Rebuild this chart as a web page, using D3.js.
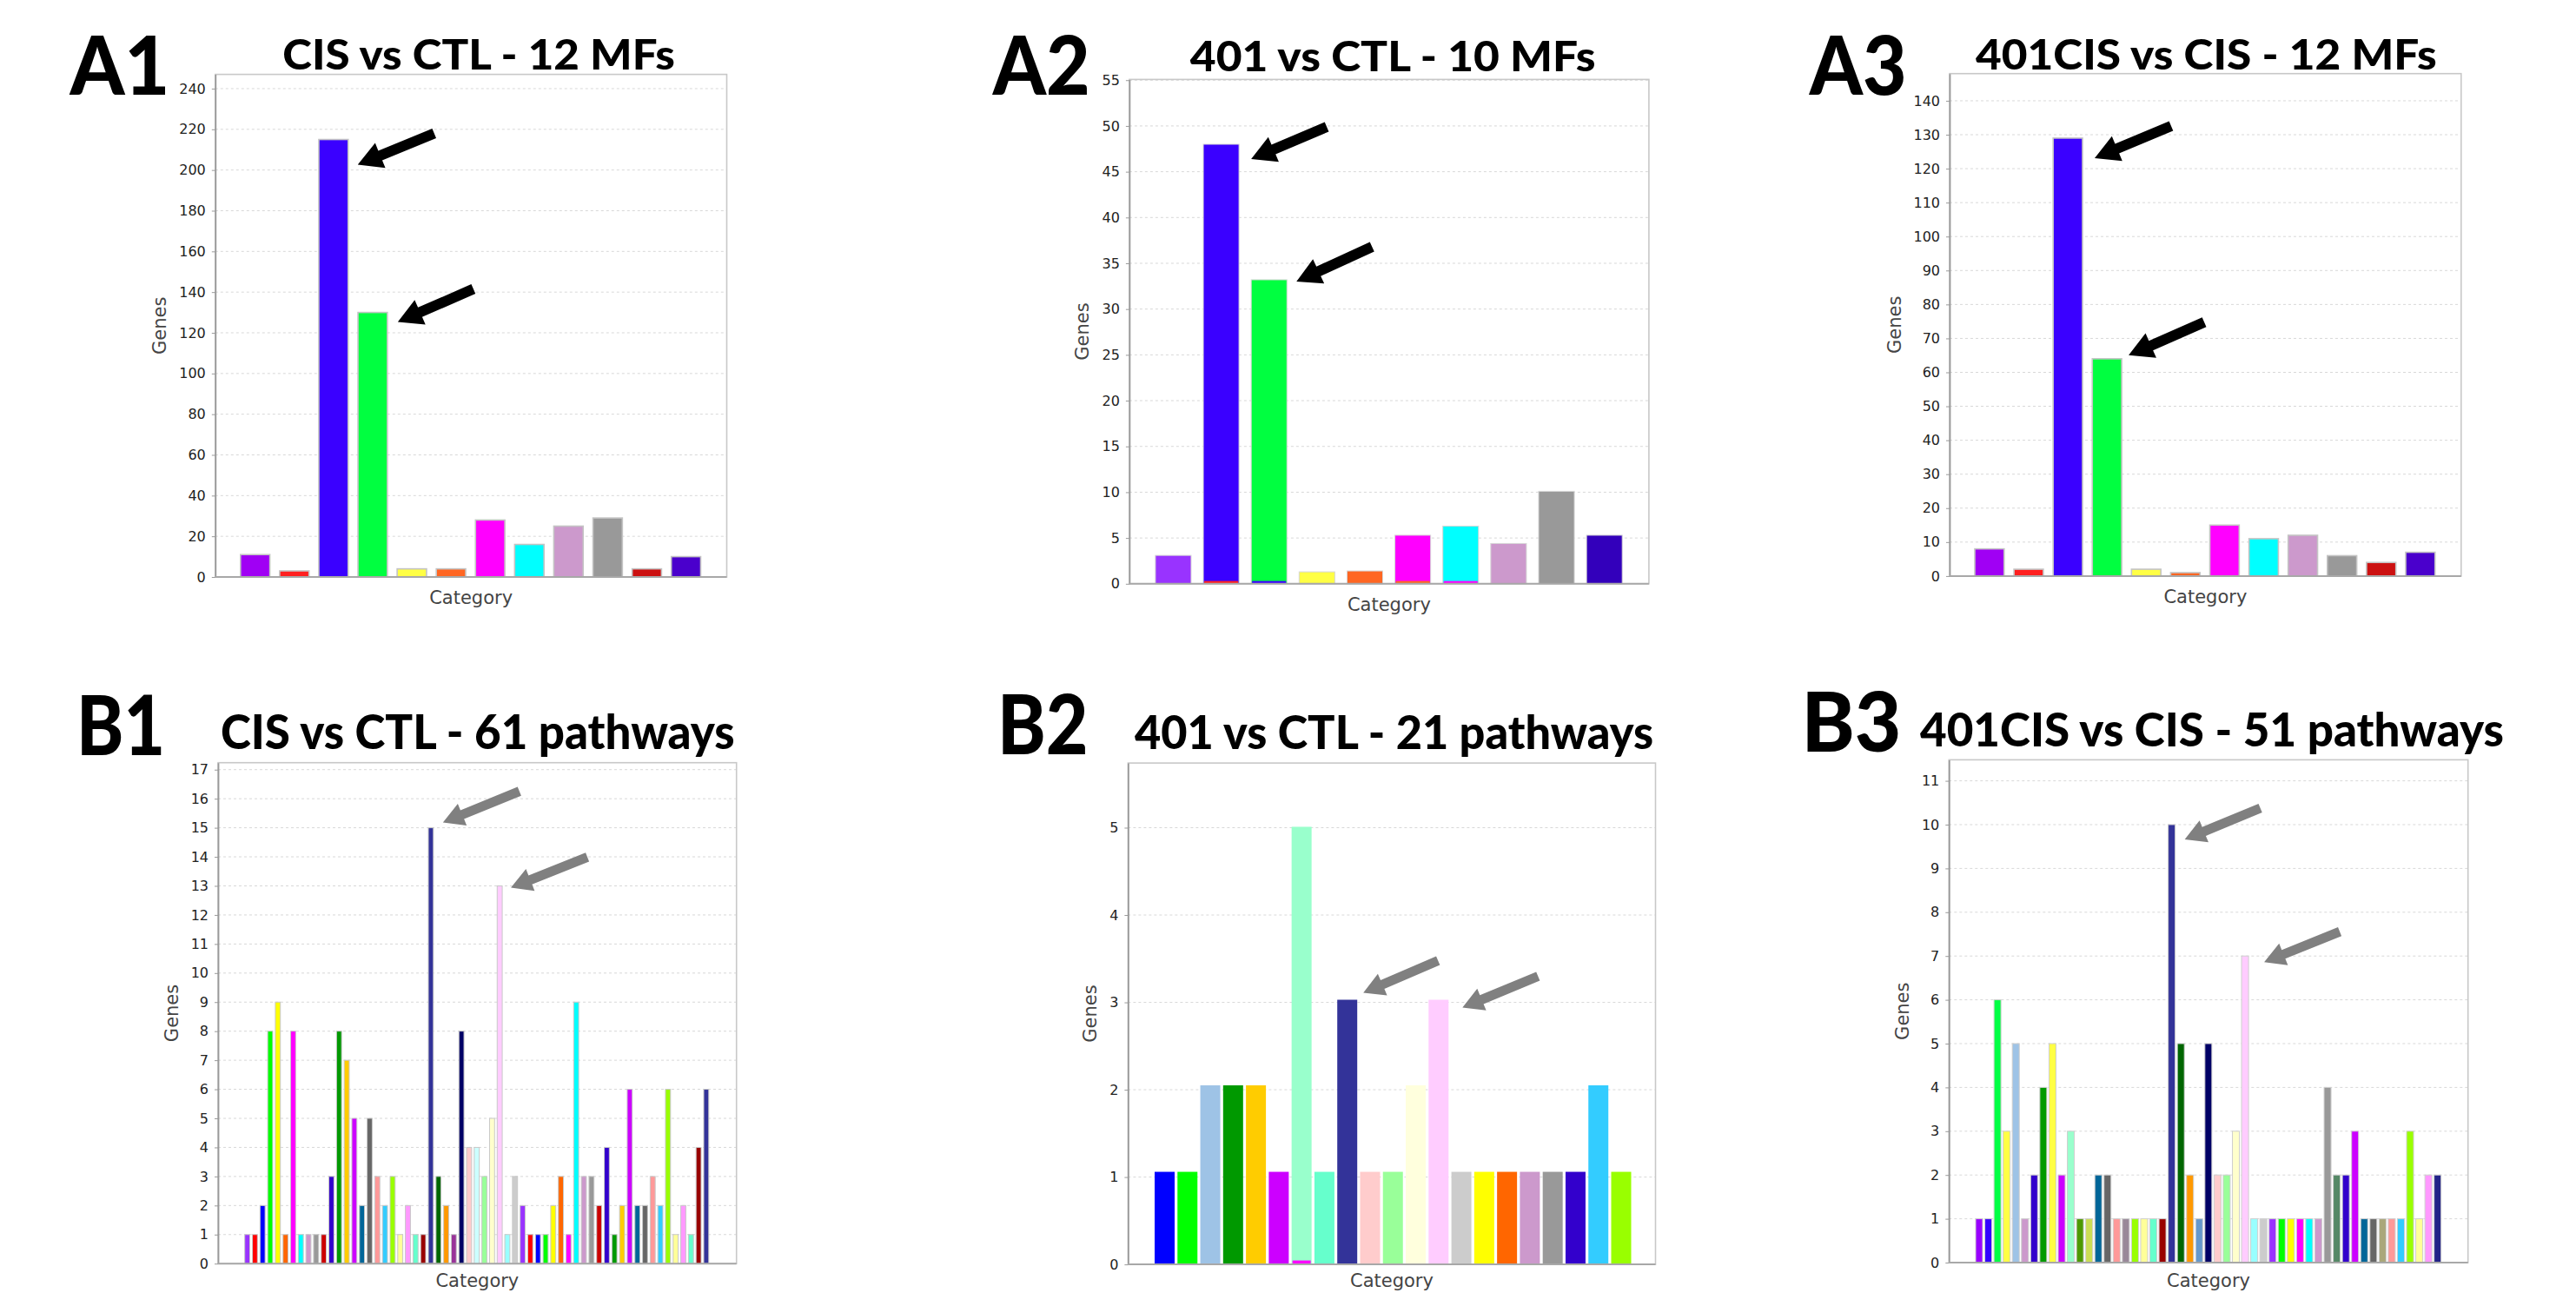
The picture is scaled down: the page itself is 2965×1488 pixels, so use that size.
<!DOCTYPE html>
<html><head><meta charset="utf-8">
<script src="https://cdn.jsdelivr.net/npm/d3@7"></script>
<style>html,body{margin:0;padding:0;background:#fff;}svg{display:block;}</style>
</head><body>
<svg id="fig" width="2965" height="1488"></svg>
<script>
// ---------------- DATA ----------------
const a1Values = [11, 3, 215, 130, 4, 4, 28, 16, 25, 29, 4, 10];
const a1Colors = ['#a000f4','#ff2020','#3a00ff','#00ff40','#ffff44','#ff6622','#ff00ff','#00ffff','#cc99cc','#999999','#cc1111','#4a00cc'];
const a1Ticks = [0,20,40,60,80,100,120,140,160,180,200,220,240];

const a2Values = [3.1, 48, 33.2, 1.3, 1.4, 5.3, 6.3, 4.4, 10.1, 5.3];
const a2Colors = ['#9933ff','#3a00ff','#00ff40','#ffff44','#ff6622','#ff00ff','#00ffff','#cc99cc','#999999','#3300bb'];
const a2Strip  = [null,'#ff2020','#3a00ff',null,null,'#ff6622','#ff00ff',null,null,null];
const a2Ticks = [0,5,10,15,20,25,30,35,40,45,50,55];

const a3Values = [8, 2, 129, 64, 2, 1, 15, 11, 12, 6, 4, 7];
const a3Colors = ['#a000f4','#ff2020','#3a00ff','#00ff40','#ffff44','#ff6622','#ff00ff','#00ffff','#cc99cc','#999999','#cc1111','#4a00cc'];
const a3Ticks = [0,10,20,30,40,50,60,70,80,90,100,110,120,130,140];

const pathwayPalette = ['#9933ff','#ff0000','#0000ff','#00ff00','#ffff00','#ff6600','#ff00ff','#00ffff','#cc99cc','#999999','#cc0000','#3300cc',
  '#009900','#ffcc00','#cc00ff','#006699','#666666','#ff9999','#33ccff','#99ff00','#ffff99','#ff99ff','#66ffcc','#990000',
  '#333399','#006600','#ff9900','#993399','#000066','#ffcccc','#ccffff','#99ff99','#ffffcc','#ffccff','#99ffff','#cccccc'];

const b1Values = [1,1,2,8,9,1,8,1,1,1,1, 3,8,7,5,2,5,3,2,3,1,2,1,1, 15,3,2,1,8,4,4,3,5,13,1,3,2, 1,1,1,2,3,1,9,3,3,2,4,1, 2,6,2,2,3,2,6,1,2,1,4,6];
const b1Colors = pathwayPalette.concat(pathwayPalette.slice(0, 25));
const b1Ticks = [0,1,2,3,4,5,6,7,8,9,10,11,12,13,14,15,16,17];

const b2Values = [1.06,1.06,2.05,2.05,2.05,1.06,5.01,1.06,3.03,1.06,1.06,2.05,3.03,1.06,1.06,1.06,1.06,1.06,1.06,2.05,1.06];
const b2Colors = ['#0000ff','#00ff00','#9ec3e6','#009900','#ffcc00','#cc00ff','#99ffcc','#66ffcc','#333399','#ffcccc','#99ff99',
  '#ffffdd','#ffccff','#cccccc','#ffff00','#ff6600','#cc99cc','#999999','#3300cc','#33ccff','#99ff00'];
const b2Strip = [null,null,null,null,null,null,'#ff00ff',null,null,null,null,null,null,null,null,null,null,null,null,null,null];
const b2Ticks = [0,1,2,3,4,5];

const b3Values = [1,1,6,3,5,1,2,4,5,2,3,1,1,2,2,1,1,1,1,1,1,10,5,2,1,5,2,2,3,7,1,1,1,1,1,1,1,1,4,2,2,3,1,1,1,1,1,3,1,2,2];
const b3Colors = ['#9900ff','#3300ff','#00ff44','#ffff44','#9ec3e6','#cc99cc','#3300cc','#009900','#ffff44','#cc00ff',
  '#99ffcc','#4d9900','#ccdd55','#006699','#666666','#ff9999','#998899','#99ff00','#ffff99','#66ffcc',
  '#990000','#333399','#006600','#ff9900','#6699cc','#000066','#ffcccc','#99ff99','#ffffcc','#ffccff',
  '#99ffff','#cccccc','#9933ff','#00ff00','#ffff00','#ff00ff','#00ffff','#cc99cc','#999999','#558866',
  '#3300cc','#cc00ff','#006699','#666666','#aaa77a','#ff9999','#33ccff','#99ff00','#ffff99','#ff99ff','#222288'];
const b3Ticks = [0,1,2,3,4,5,6,7,8,9,10,11];

// ---------------- LAYOUT ----------------
const panels = [
  {label:'A1', lab:{x:80.4,y:109.3,w:115,fs:93}, title:'CIS vs CTL - 12 MFs', tit:{x:325.3,y:80.3,w:451.5,fs:46.7},
   values:a1Values, colors:a1Colors, ticks:a1Ticks, L:247.8, R:836.5, T:85.6, B:664, yMax:247, gapL:29, gapR:30, pi:0.25,
   genesX:184, barStroke:'#c4c4c4', barSW:1.6, arrowColor:'#000', shaft:12, headW:31, headL:28,
   arrows:[{i:2,dx:11,dy:29,vx:88,vy:-36},{i:3,dx:12,dy:11,vx:87,vy:-38}]},
  {label:'A2', lab:{x:1142.8,y:109.3,w:112,fs:93}, title:'401 vs CTL - 10 MFs', tit:{x:1369.8,y:81.5,w:466.8,fs:48},
   values:a2Values, colors:a2Colors, strip:a2Strip, stripV:0.3, ticks:a2Ticks, L:1299.9, R:1897.9, T:91.4, B:671.8, yMax:55.08, gapL:30, gapR:30.7, pi:0.255,
   genesX:1246, barStroke:'#d6d6d6', barSW:1, arrowColor:'#000', shaft:12, headW:31, headL:28,
   arrows:[{i:1,dx:14,dy:17,vx:87,vy:-37},{i:2,dx:11,dy:2,vx:87,vy:-40}]},
  {label:'A3', lab:{x:2082.8,y:109.3,w:112,fs:93}, title:'401CIS vs CIS - 12 MFs', tit:{x:2274,y:80.3,w:530.7,fs:46.7},
   values:a3Values, colors:a3Colors, ticks:a3Ticks, L:2244, R:2832.8, T:84.7, B:662.9, yMax:148, gapL:29, gapR:30, pi:0.25,
   genesX:2181, barStroke:'#c4c4c4', barSW:1.6, arrowColor:'#000', shaft:12, headW:31, headL:28,
   arrows:[{i:2,dx:14,dy:23,vx:88,vy:-37},{i:3,dx:8,dy:-4,vx:87,vy:-38}]},
  {label:'B1', lab:{x:88,y:869,w:102,fs:95}, title:'CIS vs CTL - 61 pathways', tit:{x:254,y:861.5,w:591.7,fs:56},
   values:b1Values, colors:b1Colors, ticks:b1Ticks, L:251, R:847.7, T:877.7, B:1454.2, yMax:17.24, gapL:30.7, gapR:31.9, pi:0.34,
   genesX:198, barStroke:'#c8c8c8', barSW:1, arrowColor:'#808080', shaft:11, headW:27, headL:24,
   arrows:[{i:24,dx:11,dy:-6,vx:88,vy:-36},{i:33,dx:10,dy:2,vx:88,vy:-35}]},
  {label:'B2', lab:{x:1147.9,y:868,w:104.5,fs:95}, title:'401 vs CTL - 21 pathways', tit:{x:1306,y:861.5,w:597,fs:54},
   values:b2Values, colors:b2Colors, strip:b2Strip, stripV:0.045, ticks:b2Ticks, L:1298.4, R:1905.5, T:878.1, B:1455.1, yMax:5.74, gapL:30.6, gapR:28, pi:0.125,
   genesX:1255, barStroke:'none', barSW:0, arrowColor:'#808080', shaft:11, headW:27, headL:24,
   arrows:[{i:8,dx:7,dy:-8,vx:86,vy:-37},{i:12,dx:16,dy:9,vx:87,vy:-36}]},
  {label:'B3', lab:{x:2073.4,y:865,w:115,fs:95}, title:'401CIS vs CIS - 51 pathways', tit:{x:2210,y:858.5,w:672,fs:54},
   values:b3Values, colors:b3Colors, ticks:b3Ticks, L:2243.3, R:2840.7, T:874.4, B:1453, yMax:11.48, gapL:30.7, gapR:31, pi:0.24,
   genesX:2190, barStroke:'#cfcfcf', barSW:1, arrowColor:'#808080', shaft:11, headW:27, headL:24,
   arrows:[{i:21,dx:11,dy:17,vx:87,vy:-36},{i:29,dx:18,dy:7,vx:87,vy:-35}]}
];

const svg = d3.select('#fig');
svg.append('rect').attr('width',2965).attr('height',1488).attr('fill','#fff');

function arrowPoints(tx, ty, vx, vy, shaft, headW, headL) {
  const len = Math.hypot(vx, vy), ux = vx/len, uy = vy/len, nx = -uy, ny = ux;
  const hx = tx + ux*headL, hy = ty + uy*headL, ex = tx + vx, ey = ty + vy;
  const pts = [[tx,ty],[hx+nx*headW/2,hy+ny*headW/2],[hx+nx*shaft/2,hy+ny*shaft/2],[ex+nx*shaft/2,ey+ny*shaft/2],
               [ex-nx*shaft/2,ey-ny*shaft/2],[hx-nx*shaft/2,hy-ny*shaft/2],[hx-nx*headW/2,hy-ny*headW/2]];
  return pts.map(p=>p.join(',')).join(' ');
}

panels.forEach(p => {
  const g = svg.append('g');
  const x = d3.scaleBand().domain(d3.range(p.values.length)).range([p.L+p.gapL, p.R-p.gapR]).paddingInner(p.pi).paddingOuter(0);
  const y = d3.scaleLinear().domain([0, p.yMax]).range([p.B, p.T]);

  // grid
  g.selectAll('line.grid').data(p.ticks.filter(t=>t>0)).join('line')
    .attr('x1',p.L).attr('x2',p.R).attr('y1',d=>y(d)).attr('y2',d=>y(d))
    .attr('stroke','#d8d8d8').attr('stroke-width',1).attr('stroke-dasharray','3,3');
  // frame
  g.append('rect').attr('x',p.L).attr('y',p.T).attr('width',p.R-p.L).attr('height',p.B-p.T)
    .attr('fill','none').attr('stroke','#c8c8c8').attr('stroke-width',1.6);

  // bars
  g.selectAll('rect.bar').data(p.values).join('rect')
    .attr('x',(d,i)=>x(i)).attr('y',d=>y(d)).attr('width',x.bandwidth()).attr('height',d=>y(0)-y(d))
    .attr('fill',(d,i)=>p.colors[i]).attr('stroke',p.barStroke).attr('stroke-width',p.barSW);
  if (p.strip) {
    g.selectAll('rect.strip').data(p.strip.map((c,i)=>({c,i})).filter(d=>d.c)).join('rect')
      .attr('x',d=>x(d.i)+1).attr('y',y(p.stripV)).attr('width',x.bandwidth()-2).attr('height',y(0)-y(p.stripV))
      .attr('fill',d=>d.c);
  }

  // y axis
  const ax = g.append('g').attr('transform',`translate(${p.L},0)`)
    .call(d3.axisLeft(y).tickValues(p.ticks).tickSize(4).tickSizeOuter(0).tickPadding(7).tickFormat(d3.format('d')));
  ax.select('.domain').attr('stroke','#9a9a9a').attr('stroke-width',1.8);
  ax.selectAll('.tick line').attr('stroke','#9a9a9a');
  ax.selectAll('.tick text').attr('font-family','DejaVu Sans').attr('font-size',16).attr('fill','#222');
  // x axis line
  g.append('line').attr('x1',p.L).attr('x2',p.R).attr('y1',y(0)).attr('y2',y(0)).attr('stroke','#a8a8a8').attr('stroke-width',2);

  // axis titles
  g.append('text').attr('transform',`translate(${p.genesX},${(p.T+p.B)/2}) rotate(-90)`)
    .attr('text-anchor','middle').attr('dominant-baseline','central')
    .attr('font-family','DejaVu Sans').attr('font-size',21).attr('fill','#444').text('Genes');
  g.append('text').attr('x',(p.L+p.R)/2).attr('y',Math.min(p.B+31, 1481)).attr('text-anchor','middle')
    .attr('font-family','DejaVu Sans').attr('font-size',21).attr('fill','#444').text('Category');

  // panel label and title
  g.append('text').attr('x',p.lab.x).attr('y',p.lab.y).attr('font-family','Lato').attr('font-weight',900)
    .attr('font-size',p.lab.fs).attr('textLength',p.lab.w).attr('lengthAdjust','spacingAndGlyphs').attr('fill','#000').text(p.label);
  g.append('text').attr('x',p.tit.x).attr('y',p.tit.y).attr('font-family','Lato').attr('font-weight',900)
    .attr('font-size',p.tit.fs).attr('textLength',p.tit.w).attr('lengthAdjust','spacingAndGlyphs').attr('fill','#000').text(p.title);

  // arrows anchored to bar tops
  g.selectAll('polygon.arrow').data(p.arrows).join('polygon')
    .attr('points', a => arrowPoints(x(a.i)+x.bandwidth()+a.dx, y(p.values[a.i])+a.dy, a.vx, a.vy, p.shaft, p.headW, p.headL))
    .attr('fill', p.arrowColor);
});
</script>
</body></html>
